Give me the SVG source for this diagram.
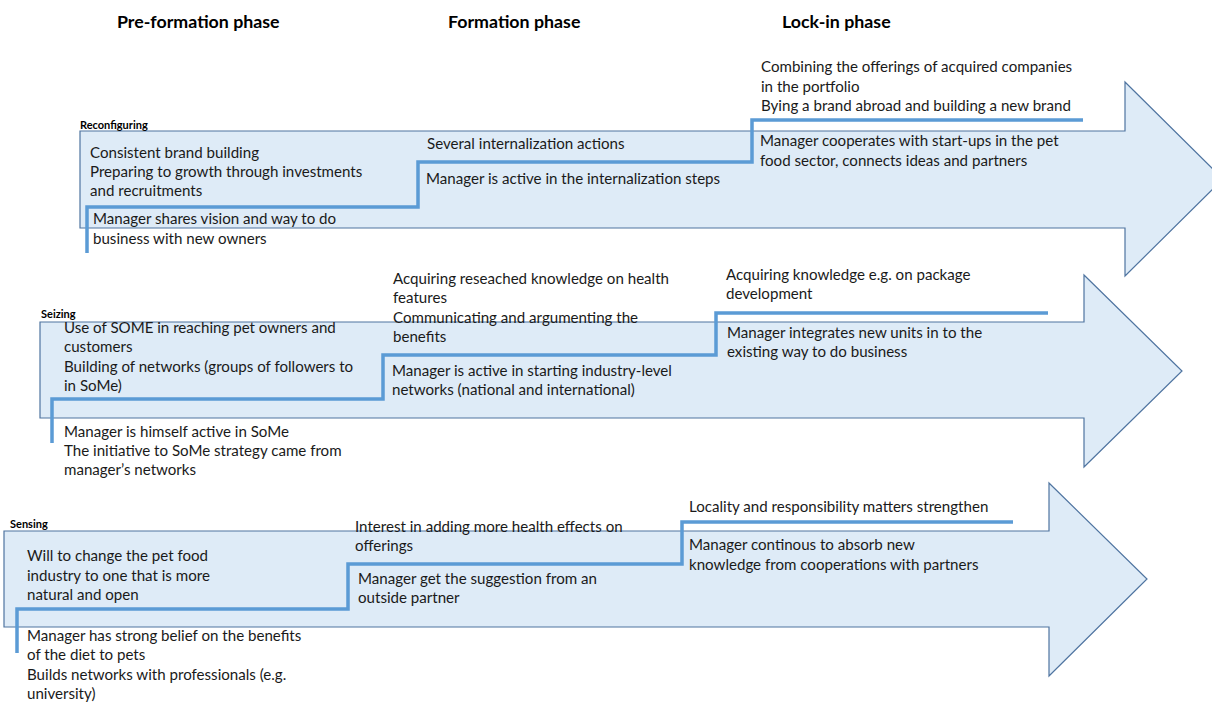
<svg xmlns="http://www.w3.org/2000/svg" width="1212" height="702" viewBox="0 0 1212 702">
  <style>
    .arrow { fill: #DEEBF7; stroke: #4F74A0; stroke-width: 1.2; }
    .step { fill: none; stroke: #5B9BD5; stroke-width: 3.5; stroke-linejoin: miter; }
    .t { font-family: Lato, "Liberation Sans", sans-serif; font-size: 15.1px; fill: #1a1a1a; }
    .lbl { font-family: Lato, "Liberation Sans", sans-serif; font-size: 11px; font-weight: bold; fill: #000; }
    .phase { font-family: Lato, "Liberation Sans", sans-serif; font-size: 17.8px; font-weight: bold; fill: #000; }
  </style>

  <!-- phase headings -->
  <g id="phases">
    <text class="phase" x="117" y="28">Pre-formation phase</text>
    <text class="phase" x="448" y="28">Formation phase</text>
    <text class="phase" x="782" y="28">Lock-in phase</text>
  </g>

  <!-- Reconfiguring -->
  <g id="reconfiguring">
    <path class="arrow" d="M80,131 H1125 V82 L1223,179 L1125,276 V228 H80 Z"/>
    <text class="lbl" x="80" y="129">Reconfiguring</text>
    <text class="t" x="90" y="158">Consistent brand building</text>
    <text class="t" x="90" y="177">Preparing to growth through investments</text>
    <text class="t" x="90" y="196">and recruitments</text>
    <text class="t" x="93" y="224">Manager shares vision and way to do</text>
    <text class="t" x="93" y="244">business with new owners</text>
    <text class="t" x="427" y="149">Several internalization actions</text>
    <text class="t" x="426" y="184">Manager is active in the internalization steps</text>
    <text class="t" x="761" y="72">Combining the offerings of acquired companies</text>
    <text class="t" x="761" y="92">in the portfolio</text>
    <text class="t" x="761" y="111">Bying a brand abroad and building a new brand</text>
    <text class="t" x="760" y="146">Manager cooperates with start-ups in the pet</text>
    <text class="t" x="760" y="166">food sector, connects ideas and partners</text>
  </g>

  <!-- Seizing -->
  <g id="seizing">
    <path class="arrow" d="M40,322 H1084 V275 L1182,371 L1084,467 V418 H40 Z"/>
    <text class="lbl" x="41" y="318">Seizing</text>
    <text class="t" x="64" y="333">Use of SOME in reaching pet owners and</text>
    <text class="t" x="64" y="352">customers</text>
    <text class="t" x="64" y="372">Building of networks (groups of followers to</text>
    <text class="t" x="64" y="391">in SoMe)</text>
    <text class="t" x="64" y="437">Manager is himself active in SoMe</text>
    <text class="t" x="64" y="456">The initiative to SoMe strategy came from</text>
    <text class="t" x="64" y="475">manager’s networks</text>
    <text class="t" x="393" y="284">Acquiring reseached knowledge on health</text>
    <text class="t" x="393" y="303">features</text>
    <text class="t" x="393" y="323">Communicating and argumenting the</text>
    <text class="t" x="393" y="342">benefits</text>
    <text class="t" x="392" y="376">Manager is active in starting industry-level</text>
    <text class="t" x="392" y="395">networks (national and international)</text>
    <text class="t" x="726" y="280">Acquiring knowledge e.g. on package</text>
    <text class="t" x="726" y="299">development</text>
    <text class="t" x="727" y="338">Manager integrates new units in to the</text>
    <text class="t" x="727" y="357">existing way to do business</text>
  </g>

  <!-- Sensing -->
  <g id="sensing">
    <path class="arrow" d="M4,531 H1049 V483 L1147,579 L1049,676 V627 H4 Z"/>
    <text class="lbl" x="10" y="528">Sensing</text>
    <text class="t" x="27" y="561">Will to change the pet food</text>
    <text class="t" x="27" y="581">industry to one that is more</text>
    <text class="t" x="27" y="600">natural and open</text>
    <text class="t" x="27" y="641">Manager has strong belief on the benefits</text>
    <text class="t" x="27" y="660">of the diet to pets</text>
    <text class="t" x="27" y="680">Builds networks with professionals (e.g.</text>
    <text class="t" x="27" y="699">university)</text>
    <text class="t" x="355" y="532">Interest in adding more health effects on</text>
    <text class="t" x="355" y="551">offerings</text>
    <text class="t" x="358" y="584">Manager get the suggestion from an</text>
    <text class="t" x="358" y="603">outside partner</text>
    <text class="t" x="689" y="512">Locality and responsibility matters strengthen</text>
    <text class="t" x="689" y="550">Manager continous to absorb new</text>
    <text class="t" x="689" y="570">knowledge from cooperations with partners</text>
  </g>

  <!-- stepped progression lines -->
  <g id="connectors">
    <polyline class="step" points="87,253 87,207 418,207 418,162 752,162 752,120 1083,120"/>
    <polyline class="step" points="52,443 52,399 383,399 383,355 716,355 716,313 1048,313"/>
    <polyline class="step" points="17,653 17,609 348,609 348,564 682,564 682,522 1013,522"/>
  </g>
</svg>
